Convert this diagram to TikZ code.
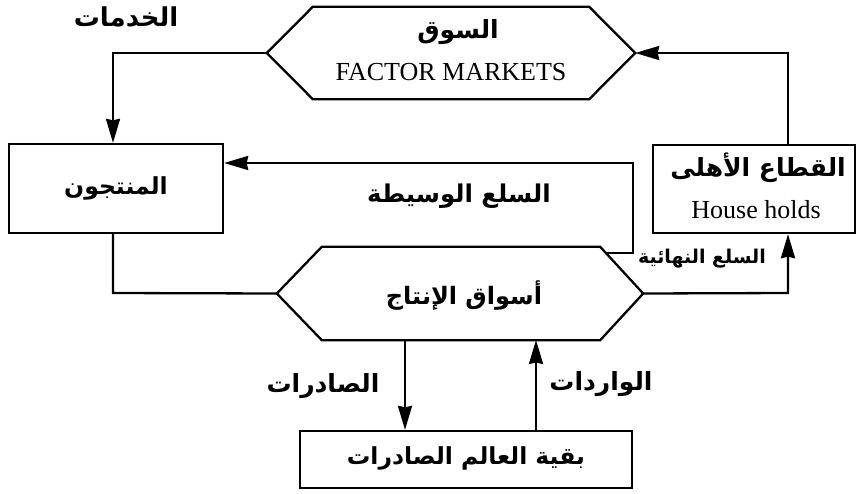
\documentclass[tikz,border=0pt]{standalone}
\usepackage{fontspec}
\setmainfont{Liberation Serif}
\newfontfamily\arfont[Script=Arabic]{DejaVu Sans}
\TeXXeTstate=1
\usetikzlibrary{arrows.meta}
\newcommand{\artx}[1]{{\arfont\bfseries\beginR #1\endR}}
\newcommand{\fsz}[1]{\fontsize{#1}{#1}\selectfont}
\begin{document}
\begin{tikzpicture}[x=1pt,y=-1pt,
  line/.style={line width=2.3pt,line join=miter},
  arr/.style={line, -{Stealth[length=24pt,width=14pt,inset=1.5pt]}},
  boxnode/.style={draw,line width=2.3pt,inner sep=0pt},
  hexhold/.style={inner sep=0pt},
  artext/.style={font=\fsz{24}, inner sep=0pt},
  entext/.style={font=\fsz{26}, inner sep=0pt}]
\useasboundingbox (0,0) rectangle (857,493);
% nodes
\node[hexhold,minimum width=368pt,minimum height=92pt] (fm) at (451,53) {};
\node[boxnode,minimum width=214pt,minimum height=89pt] (prod) at (116,188.5) {};
\node[boxnode,minimum width=202pt,minimum height=88pt] (hh) at (754,189) {};
\node[hexhold,minimum width=366pt,minimum height=93pt] (pm) at (460,293.5) {};
\node[boxnode,minimum width=332pt,minimum height=57pt] (row) at (466,459.5) {};
% hexagons
\draw[line] (fm.west) -- ([xshift=46pt]fm.north west) -- ([xshift=-46pt]fm.north east)
  -- (fm.east) -- ([xshift=-46pt]fm.south east) -- ([xshift=46pt]fm.south west) -- cycle;
\draw[line] (pm.west) -- ([xshift=45pt]pm.north west) -- ([xshift=-43pt]pm.north east)
  -- (pm.east) -- ([xshift=-43pt]pm.south east) -- ([xshift=45pt]pm.south west) -- cycle;
% texts
\node[artext,font=\fsz{26}] (t1) at (126,17) {\artx{الخدمات}};
\node[artext,font=\fsz{25}] (t2) at (458,32) {\artx{السوق}};
\node[entext] (t3) at (451,72) {FACTOR MARKETS};
\node[artext,font=\fsz{23.5}] (t4) at (prod) {\artx{المنتجون}};
\node[artext,font=\fsz{25}] (t5) at (758,168) {\artx{القطاع الأهلى}};
\node[entext] (t6) at (756,210) {House holds};
\node[artext,font=\fsz{24.5}] (t7) at (459,196) {\artx{السلع الوسيطة}};
\node[artext,font=\fsz{24}] (t8) at (464,296) {\artx{أسواق الإنتاج}};
\node[artext,font=\fsz{19}] (t9) at (702,259) {\artx{السلع النهائية}};
\node[artext,font=\fsz{25}] (t10) at (323,386) {\artx{الصادرات}};
\node[artext,font=\fsz{25}] (t11) at (601,384) {\artx{الواردات}};
\node[artext,font=\fsz{23.5}] (t12) at (466,458) {\artx{بقية العالم الصادرات}};
% connector helper coordinates
\coordinate (c1) at (113,53);
\coordinate (c2) at (788,53);
\coordinate (c3) at (606,253);
\coordinate (c4) at (633,253);
\coordinate (c5) at (633,163);
\coordinate (c6) at (113,293);
\coordinate (c7) at (788,293);
% connectors
\draw[arr] (fm.west) -- (c1) -- (c1 |- prod.north);
\draw[arr] (c2 |- hh.north) -- (c2) -- (fm.east);
\draw[arr] (c3) -- (c4) -- (c5) -- (c5 -| prod.east);
\draw[line] (c6 |- prod.south) -- (c6) -- (pm.west);
\draw[arr] (pm.east) -- (c7) -- (c7 |- hh.south);
\coordinate (e1) at (405,340);
\draw[arr] (e1) -- (e1 |- row.north);
\coordinate (i1) at (536,340);
\draw[arr] (i1 |- row.north) -- (i1);
\end{tikzpicture}
\end{document}
